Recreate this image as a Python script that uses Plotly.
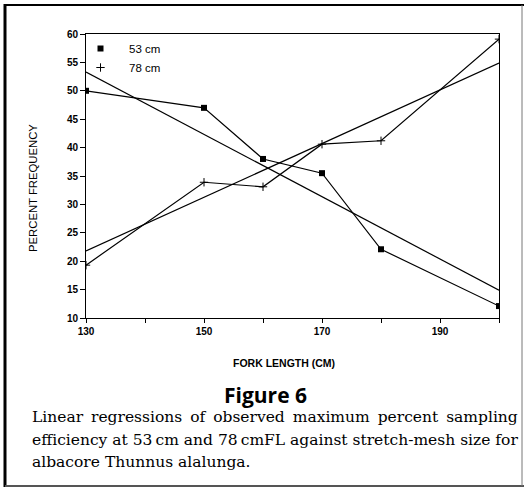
import plotly.graph_objects as go

fork_length = [130, 150, 160, 170, 180, 200]
pct_53cm = [50.0, 47.0, 38.0, 35.5, 22.1, 12.1]
pct_78cm = [19.3, 33.9, 33.1, 40.6, 41.2, 59.1]
fit_x = [130, 200]
fit_53cm = [53.3, 14.9]
fit_78cm = [21.8, 54.9]
x_tickvals = [130, 140, 150, 160, 170, 180, 190, 200]
x_ticktext = ["130", "", "150", "", "170", "", "190", ""]
y_tickvals = [10, 15, 20, 25, 30, 35, 40, 45, 50, 55, 60]
caption_lines = [
    "Linear regressions of observed maximum percent sampling",
    "efficiency at 53\u2009cm and 78\u2009cmFL against stretch-mesh size for",
    "albacore Thunnus alalunga.",
]
caption_wordspacing = [3.0, 0, 0]

L, R, T, B = 86, 499, 34, 318
W, H = 525, 488
def px(xp):
    return (xp - L) / (R - L)
def py(yp):
    return (B - yp) / (B - T)

fig = go.Figure()
line = dict(color="black", width=1.2)
fig.add_trace(go.Scatter(x=fit_x, y=fit_53cm, mode="lines", line=line, showlegend=False))
fig.add_trace(go.Scatter(x=fit_x, y=fit_78cm, mode="lines", line=line, showlegend=False))
fig.add_trace(go.Scatter(x=fork_length, y=pct_53cm, mode="lines+markers", line=line,
                         marker=dict(symbol="square", size=6, color="black"), showlegend=False))
fig.add_trace(go.Scatter(x=fork_length, y=pct_78cm, mode="lines+markers", line=line,
                         marker=dict(symbol="cross-thin", size=6, color="black",
                                     line=dict(color="black", width=1)), showlegend=False))
# legend-only entries
fig.add_trace(go.Scatter(x=[None], y=[None], mode="markers", name="53 cm",
                         marker=dict(symbol="square", size=6, color="black")))
fig.add_trace(go.Scatter(x=[None], y=[None], mode="markers", name="78 cm",
                         marker=dict(symbol="cross-thin", size=6, color="black",
                                     line=dict(color="black", width=1))))

tickfont = dict(family="Liberation Sans", size=10, color="black", weight="bold")
fig.update_xaxes(range=[130, 200], tickvals=x_tickvals, ticktext=x_ticktext,
                 showline=True, linecolor="black", linewidth=1, mirror=True,
                 ticks="outside", ticklen=4, tickcolor="black", showgrid=False,
                 zeroline=False, tickfont=tickfont)
fig.update_yaxes(range=[10, 60], tickvals=y_tickvals,
                 showline=True, linecolor="black", linewidth=1, mirror=True,
                 ticks="outside", ticklen=5, tickcolor="black", showgrid=False,
                 zeroline=False, tickfont=tickfont)

annotations = [
    dict(x=px(284), y=py(363), xref="paper", yref="paper", text="<b>FORK LENGTH (CM)</b>",
         showarrow=False, font=dict(family="Liberation Sans", size=10.5, color="black"),
         xanchor="center", yanchor="middle"),
    dict(x=px(33), y=py(188), xref="paper", yref="paper", text="PERCENT FREQUENCY",
         showarrow=False, textangle=-90, font=dict(family="Liberation Sans", size=11.3, color="black"),
         xanchor="center", yanchor="middle"),
    dict(x=px(265), y=py(395), xref="paper", yref="paper", text="<b>Figure 6</b>",
         showarrow=False, font=dict(family="Open Sans", size=21, color="black"),
         xanchor="center", yanchor="middle"),
]
for i, t in enumerate(caption_lines):
    ws = caption_wordspacing[i]
    txt = f'<span style="word-spacing:{ws}px">{t}</span>' if ws else t
    annotations.append(dict(x=px(30), y=py(417 + 22.5 * i), xref="paper", yref="paper",
                            text=txt, showarrow=False, xanchor="left", yanchor="middle",
                            font=dict(family="DejaVu Serif", size=15.5, color="black")))

shapes = [
    dict(type="line", xref="paper", yref="paper", x0=px(5), x1=px(5), y0=py(4), y1=py(487),
         line=dict(color="black", width=3)),
    dict(type="line", xref="paper", yref="paper", x0=px(5), x1=px(524), y0=py(5), y1=py(5),
         line=dict(color="black", width=2)),
    dict(type="line", xref="paper", yref="paper", x0=px(5), x1=px(524), y0=py(486), y1=py(486),
         line=dict(color="#555", width=2)),
    dict(type="line", xref="paper", yref="paper", x0=px(522), x1=px(522), y0=py(5), y1=py(486),
         line=dict(color="#777", width=1)),
]

fig.update_layout(
    width=W, height=H,
    margin=dict(l=L, r=W - R, t=T, b=H - B),
    paper_bgcolor="white", plot_bgcolor="white",
    showlegend=True,
    legend=dict(x=px(72), y=py(34), xanchor="left", yanchor="top",
                bgcolor="rgba(0,0,0,0)", font=dict(family="Liberation Sans", size=11.5, color="black"),
                tracegroupgap=0, itemwidth=47),
    annotations=annotations, shapes=shapes,
)
fig.write_html("out.html")
